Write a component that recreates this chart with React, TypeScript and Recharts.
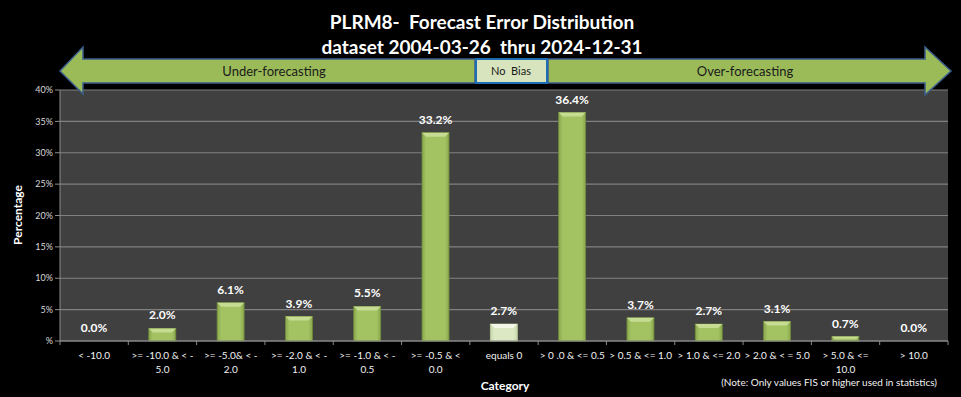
import React from 'react'
import {
  Bar,
  BarChart,
  CartesianGrid,
  Cell,
  LabelList,
  XAxis,
  YAxis,
} from 'recharts'

const categories = [
  '< -10.0',
  '>= -10.0 & < -\n5.0',
  '>= -5.0& < -\n2.0',
  '>= -2.0 & < -\n1.0',
  '>= -1.0 & < -\n0.5',
  '>= -0.5 & <\n0.0',
  'equals 0',
  '> 0 .0 & <= 0.5',
  '> 0.5 & <= 1.0',
  '> 1.0 & <= 2.0',
  '> 2.0 & < = 5.0',
  '> 5.0 & <=\n10.0',
  '> 10.0',
]
const percentages = [0.0, 2.0, 6.1, 3.9, 5.5, 33.2, 2.7, 36.4, 3.7, 2.7, 3.1, 0.7, 0.0]
const yTicks = [0, 5, 10, 15, 20, 25, 30, 35, 40]
const noBiasCategory = 'equals 0'

const data = categories.map((category, i) => ({ category, value: percentages[i] }))

const FONT = 'Lato, "Open Sans", sans-serif'
const W = 961
const H = 397
const PRE = { whiteSpace: 'pre' as const }

const CategoryTick = (props: any) => {
  const { x, y, payload, index } = props
  const half = payload?.offset || 34.15
  const lines = String(payload.value).split('\n')
  return (
    <g>
      <line x1={x - half} y1={y - 8} x2={x - half} y2={y - 4} stroke="#8c8c8c" />
      {index === categories.length - 1 && (
        <line x1={x + half} y1={y - 8} x2={x + half} y2={y - 4} stroke="#8c8c8c" />
      )}
      {lines.map((line, i) => (
        <text
          key={i}
          x={x}
          y={y + 10 + i * 14}
          textAnchor="middle"
          fill="#f2f2f2"
          fontSize={10}
          fontFamily={FONT}
          style={PRE}
        >
          {line}
        </text>
      ))}
    </g>
  )
}

const BevelBar = (props: any) => {
  const { x, y, width, height, index } = props
  if (!height || height <= 0) return null
  const pale = categories[index] === noBiasCategory
  const bevel = Math.min(4, height / 2)
  return (
    <g>
      <rect x={x} y={y} width={width} height={height} fill={`url(#${pale ? 'paleGrad' : 'greenGrad'})`} />
      <rect x={x} y={y} width={width} height={height} fill="none" stroke={pale ? '#b9c99a' : '#6f8a3a'} strokeWidth={0.8} />
      <polygon
        points={`${x},${y} ${x + width},${y} ${x + width - bevel},${y + bevel} ${x + bevel},${y + bevel}`}
        fill={pale ? '#f2f7e8' : '#c6dc92'}
      />
    </g>
  )
}

const Overlay = () => (
  <svg
    width={W}
    height={H}
    style={{ position: 'absolute', left: 0, top: 0, pointerEvents: 'none' }}
  >
    <text x={482} y={29} textAnchor="middle" fill="#ffffff" fontSize={19} fontWeight={700} fontFamily={FONT} style={PRE}>
      {'PLRM8-  Forecast Error Distribution'}
    </text>
    <text x={482} y={54} textAnchor="middle" fill="#ffffff" fontSize={19} fontWeight={700} fontFamily={FONT} style={PRE}>
      {'dataset 2004-03-26  thru 2024-12-31'}
    </text>
    <polygon
      points="60,71 83,47 83,59 475,59 475,83 83,83 83,94"
      fill="#9bbb59"
      stroke="#3b5e8c"
      strokeWidth={1.5}
    />
    <polygon
      points="548,59 925,59 925,47 951,71 925,95 925,83 548,83"
      fill="#9bbb59"
      stroke="#3b5e8c"
      strokeWidth={1.5}
    />
    <rect x={476} y={59} width={71} height={24} fill="#d7e4bd" stroke="#1f6db5" strokeWidth={2} />
    <text x={274} y={76} textAnchor="middle" fill="#1a1a1a" fontSize={13} fontFamily={FONT}>
      Under-forecasting
    </text>
    <text x={745} y={76} textAnchor="middle" fill="#1a1a1a" fontSize={13} fontFamily={FONT}>
      Over-forecasting
    </text>
    <text x={511} y={75} textAnchor="middle" fill="#1a1a1a" fontSize={11} fontFamily={FONT} style={PRE}>
      {'No  Bias'}
    </text>
    <text x={505} y={390} textAnchor="middle" fill="#ffffff" fontSize={12} fontWeight={700} fontFamily={FONT}>
      Category
    </text>
    <text x={937} y={386} textAnchor="end" fill="#f2f2f2" fontSize={10} fontFamily={FONT}>
      (Note: Only values FIS or higher used in statistics)
    </text>
    <text
      x={22}
      y={215}
      textAnchor="middle"
      fill="#ffffff"
      fontSize={12}
      fontWeight={700}
      fontFamily={FONT}
      transform="rotate(-90 22 215)"
    >
      Percentage
    </text>
  </svg>
)

export default function App() {
  return (
    <div
      style={{
        position: 'fixed',
        left: 0,
        top: 0,
        width: W,
        height: H,
        background: '#000000',
        fontFamily: FONT,
      }}
    >
      <BarChart
        width={W}
        height={H}
        data={data}
        margin={{ top: 90, right: 13, bottom: 0, left: 0 }}
        barCategoryGap="30%"
      >
        <defs>
          <linearGradient id="greenGrad" x1="0" y1="0" x2="1" y2="0">
            <stop offset="0%" stopColor="#8aa84e" />
            <stop offset="15%" stopColor="#a3c262" />
            <stop offset="85%" stopColor="#a3c262" />
            <stop offset="100%" stopColor="#8aa84e" />
          </linearGradient>
          <linearGradient id="paleGrad" x1="0" y1="0" x2="1" y2="0">
            <stop offset="0%" stopColor="#c9d8ac" />
            <stop offset="15%" stopColor="#dce8c4" />
            <stop offset="85%" stopColor="#dce8c4" />
            <stop offset="100%" stopColor="#c9d8ac" />
          </linearGradient>
        </defs>
        <CartesianGrid vertical={false} fill="#404040" stroke="#808080" strokeWidth={1.2} />
        <XAxis
          dataKey="category"
          interval={0}
          height={56}
          axisLine={{ stroke: '#8c8c8c' }}
          tickLine={false}
          tick={<CategoryTick />}
        />
        <YAxis
          domain={[0, 40]}
          ticks={yTicks}
          width={60}
          axisLine={{ stroke: '#8c8c8c' }}
          tickLine={{ stroke: '#8c8c8c' }}
          tickSize={5}
          tick={{ fill: '#d9d9d9', fontSize: 9, fontFamily: FONT }}
          tickFormatter={(v: number) => (v === 0 ? '%' : `${v}%`)}
        />
        <Bar dataKey="value" isAnimationActive={false} shape={<BevelBar />}>
          {data.map((d) => (
            <Cell key={d.category} fill={d.category === noBiasCategory ? '#d7e4bd' : '#9bbb59'} />
          ))}
          <LabelList
            dataKey="value"
            position="top"
            offset={9}
            fill="#ffffff"
            fontSize={12}
            fontWeight={700}
            fontFamily={FONT}
            formatter={(v: any) => `${Number(v).toFixed(1)}%`}
          />
        </Bar>
      </BarChart>
      <Overlay />
    </div>
  )
}
